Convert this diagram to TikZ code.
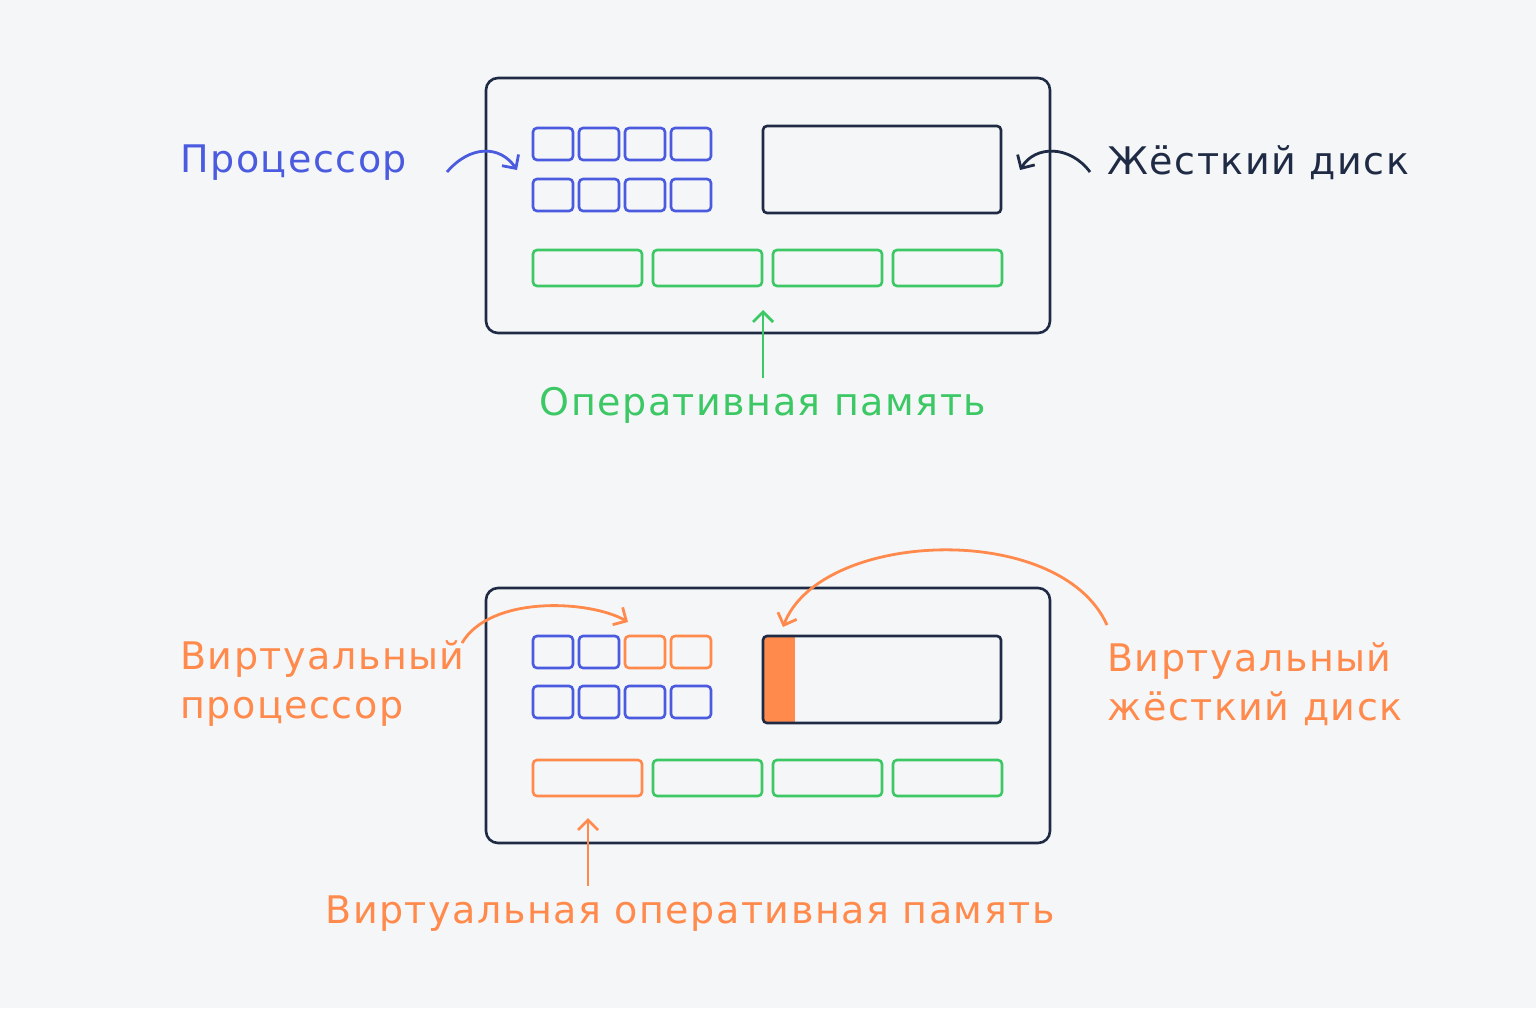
\documentclass[tikz,border=0pt]{standalone}
\usepackage{fontspec}
\setmainfont{DejaVu Sans}[LetterSpace=4]
\usepackage{tikz}
\usetikzlibrary{arrows.meta}
\definecolor{bg}{HTML}{F5F6F8}
\definecolor{navy}{HTML}{1F2A44}
\definecolor{cpu}{HTML}{4A5BE0}
\definecolor{ram}{HTML}{3CC864}
\definecolor{virt}{HTML}{FF8A4C}
\tikzset{
  frame/.style={draw=navy,line width=1.3pt,rounded corners=6pt},
  cell/.style={line width=1.3pt,rounded corners=2pt},
  lbl/.style={font=\fontsize{19}{24.5}\selectfont,inner sep=0pt},
  arr/.style={line width=1.4pt,-{Straight Barb[length=5pt,width=10pt]}}
}
\begin{document}
\begin{tikzpicture}[x=0.5pt,y=-0.5pt]
\fill[bg] (0,0) rectangle (1536,1008);
%top machine
\draw[frame] (486,78) rectangle (1050,333);
\foreach \x in {533,579,625,671}{
  \draw[cell,draw=cpu] (\x,128) rectangle ++(40,32);
  \draw[cell,draw=cpu] (\x,179) rectangle ++(40,32);}
\draw[cell,draw=navy] (763,126) rectangle (1001,213);
\foreach \x in {533,653,773,893}
  \draw[cell,draw=ram] (\x,250) rectangle ++(109,36);
\node[lbl,anchor=west,text=cpu] (cpu) at (180,163) {Процессор};
\node[lbl,anchor=west,text=navy] (hdd) at (1107,163) {Жёсткий диск};
\node[lbl,text=ram] (mem) at (763,405) {Оперативная память};
\coordinate (cpuin) at (517,170);
\coordinate (hddin) at (1020,170);
\coordinate (memin) at (763,310);
\draw[arr,cpu] (447,172) .. controls (470,145) and (500,145) .. (cpuin);
\draw[arr,navy] (1090,172) .. controls (1070,145) and (1035,145) .. (hddin);
\draw[arr,ram] (763,378) -- (memin);
%bottom machine
\draw[frame] (486,588) rectangle (1050,843);
\foreach \x/\c in {533/cpu,579/cpu,625/virt,671/virt}
  \draw[cell,draw=\c] (\x,636) rectangle ++(40,32);
\foreach \x in {533,579,625,671}
  \draw[cell,draw=cpu] (\x,686) rectangle ++(40,32);
\fill[virt] (763,636) rectangle (795,723);
\draw[cell,draw=navy] (763,636) rectangle (1001,723);
\draw[cell,draw=virt] (533,760) rectangle ++(109,36);
\foreach \x in {653,773,893}
  \draw[cell,draw=ram] (\x,760) rectangle ++(109,36);
\node[lbl,anchor=west,text=virt,align=left] (vcpu) at (180,684) {Виртуальный\\процессор};
\node[lbl,anchor=west,text=virt,align=left] (vhdd) at (1107,684) {Виртуальный\\жёсткий диск};
\node[lbl,text=virt] (vmem) at (690,914) {Виртуальная оперативная память};
\coordinate (vcpuin) at (628,622);
\coordinate (vhddin) at (783,627);
\coordinate (vmemin) at (588,818);
\draw[arr,virt] (462,643) .. controls (490,595) and (590,600) .. (vcpuin);
\draw[arr,virt] (1107,625) .. controls (1060,520) and (820,530) .. (vhddin);
\draw[arr,virt] (588,886) -- (vmemin);
\end{tikzpicture}
\end{document}
